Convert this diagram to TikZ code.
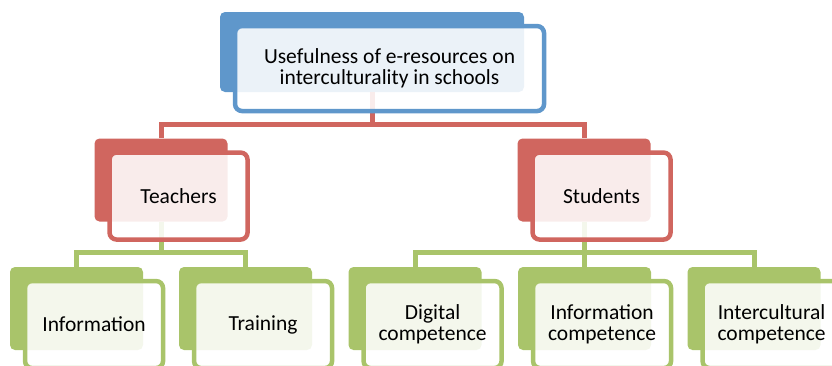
\documentclass[tikz,border=0pt]{standalone}
\usepackage{fontspec}
\setmainfont{Carlito}
\usetikzlibrary{positioning}

\definecolor{orgblue}{HTML}{5F97CB}
\definecolor{orgred}{HTML}{D0665F}
\definecolor{orggreen}{HTML}{A9C46A}

\begin{document}
\begin{tikzpicture}[x = 1pt, y = -1pt,
    backbox/.style = {fill = #1, rounded corners = 5pt, inner sep = 0pt},
    frontbox/.style = {draw = #1, line width = 4.5pt, fill = white, fill opacity = 0.88, text opacity = 1,
                       rounded corners = 7pt, inner sep = 0pt, align = center, anchor = north west,
                       font = \fontsize{21.5}{21}\selectfont},
    small/.style = {minimum width = 133pt, minimum height = 83pt},
    smallfront/.style = {minimum width = 138pt, minimum height = 87pt},
    link/.style = {draw = #1, line width = 5pt}]
  \useasboundingbox (0,0) rectangle (832,365);
  \clip (0,0) rectangle (832,365);
  % back boxes
  \node[backbox = orgblue, minimum width = 304pt, minimum height = 80pt] (useb) at (372,52) {};
  \node[backbox = orgred, small] (teachb) at (161,180) {};
  \node[backbox = orgred, small] (studb) at (584,180) {};
  \node[backbox = orggreen, small] (infob) at (76.5,308.5) {};
  \node[backbox = orggreen, small] (trainb) at (245.5,308.5) {};
  \node[backbox = orggreen, small] (digb) at (415,308.5) {};
  \node[backbox = orggreen, small] (infcb) at (584.5,308.5) {};
  \node[backbox = orggreen, small] (intb) at (754,308.5) {};
  % connectors
  \path[link = orgred] (useb.south) -- ++(0,32) -| (teachb.north)
                       (useb.south) -- ++(0,32) -| (studb.north);
  \path[link = orggreen] (teachb.south) -- ++(0,31) -| (infob.north)
                         (teachb.south) -- ++(0,31) -| (trainb.north);
  \path[link = orggreen] (studb.south) -- ++(0,31) -| (digb.north)
                         (studb.south) -- ++(0,31) -| (infcb.north)
                         (studb.south) -- ++(0,31) -| (intb.north);
  % front boxes
  \node[frontbox = orgblue, minimum width = 309pt, minimum height = 85pt] (use) at ([shift = {(13,12)}]useb.north west)
    {Usefulness of e-resources on\\interculturality in schools};
  \node[frontbox = orgred, smallfront] (teach) at ([shift = {(13,12)}]teachb.north west) {Teachers};
  \node[frontbox = orgred, smallfront] (stud) at ([shift = {(13,12)}]studb.north west) {Students};
  \node[frontbox = orggreen, smallfront] (info) at ([shift = {(13,12)}]infob.north west) {Information};
  \node[frontbox = orggreen, smallfront] (train) at ([shift = {(13,12)}]trainb.north west) {Training};
  \node[frontbox = orggreen, smallfront] (dig) at ([shift = {(13,12)}]digb.north west) {Digital\\competence};
  \node[frontbox = orggreen, smallfront] (infc) at ([shift = {(13,12)}]infcb.north west) {Information\\competence};
  \node[frontbox = orggreen, smallfront] (int) at ([shift = {(13,12)}]intb.north west) {Intercultural\\competence};
\end{tikzpicture}
\end{document}
